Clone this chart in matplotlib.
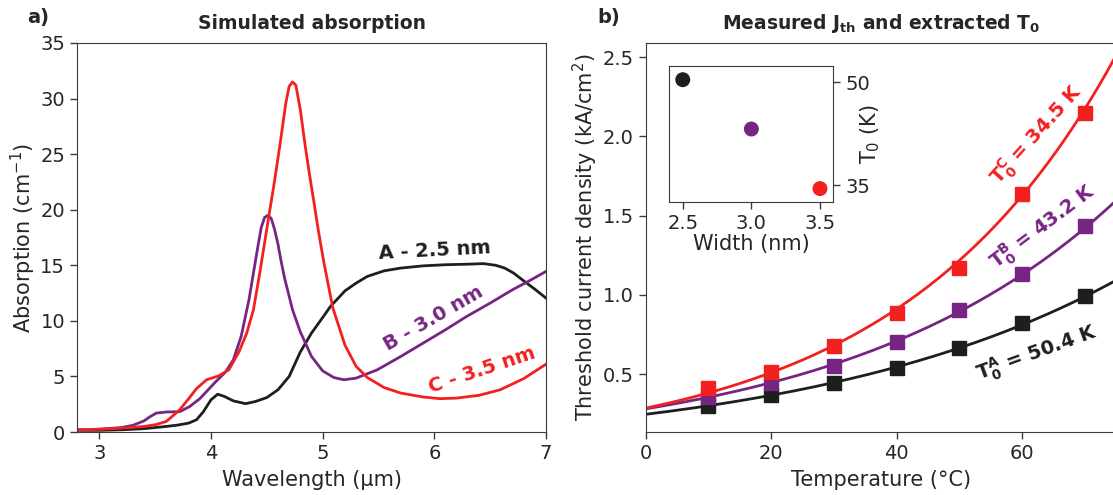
import matplotlib
matplotlib.use("Agg")
import matplotlib.pyplot as plt
import numpy as np

# panel a: simulated absorption spectra
wl_a = [2.8, 3.0, 3.2, 3.4, 3.5, 3.6, 3.7, 3.8, 3.87, 3.93, 4.0, 4.06, 4.12, 4.2, 4.31, 4.4,
        4.5, 4.6, 4.7, 4.8, 4.9, 5.0, 5.07, 5.2, 5.3, 5.4, 5.55, 5.7, 5.9, 6.1, 6.3, 6.44,
        6.55, 6.63, 6.71, 6.8, 6.9, 7.0]
abs_a = [0.15, 0.15, 0.2, 0.3, 0.4, 0.5, 0.62, 0.8, 1.1, 1.8, 2.9, 3.4, 3.2, 2.8, 2.55, 2.75,
         3.1, 3.8, 5.0, 7.2, 8.9, 10.3, 11.3, 12.7, 13.4, 14.0, 14.5, 14.75, 14.95, 15.05, 15.1, 15.15,
         15.0, 14.75, 14.3, 13.6, 12.85, 12.05]

wl_b = [2.8, 3.0, 3.2, 3.3, 3.4, 3.45, 3.51, 3.6, 3.72, 3.81, 3.9, 4.04, 4.13, 4.2, 4.27, 4.34,
        4.42, 4.45, 4.48, 4.51, 4.54, 4.57, 4.6, 4.625, 4.66, 4.73, 4.8, 4.9, 5.0, 5.1, 5.19, 5.3,
        5.49, 5.7, 5.9, 6.1, 6.29, 6.5, 6.7, 6.85, 7.0]
abs_b = [0.2, 0.25, 0.4, 0.6, 1.0, 1.35, 1.7, 1.8, 1.83, 2.3, 3.0, 4.5, 5.4, 6.5, 8.6, 11.9,
         16.7, 18.4, 19.3, 19.5, 19.2, 18.2, 16.9, 15.5, 13.8, 11.0, 9.0, 6.8, 5.5, 4.9, 4.7, 4.85,
         5.6, 6.8, 8.0, 9.2, 10.4, 11.6, 12.8, 13.6, 14.45]

wl_c = [2.8, 3.0, 3.2, 3.4, 3.5, 3.6, 3.72, 3.8, 3.87, 3.96, 4.07, 4.16, 4.25, 4.32, 4.38, 4.44,
        4.5, 4.56, 4.62, 4.67, 4.7, 4.73, 4.76, 4.8, 4.84, 4.88, 4.92, 4.96, 5.01, 5.09, 5.2, 5.3,
        5.4, 5.55, 5.7, 5.9, 6.05, 6.2, 6.4, 6.59, 6.8, 7.0]
abs_c = [0.2, 0.25, 0.35, 0.5, 0.65, 0.95, 2.0, 3.0, 3.9, 4.7, 5.05, 5.6, 7.2, 8.9, 11.0, 14.5,
         18.3, 22.0, 26.0, 29.6, 31.1, 31.5, 31.2, 29.0, 26.0, 23.3, 20.8, 18.2, 15.3, 11.2, 7.8, 5.9,
         4.9, 4.0, 3.5, 3.15, 3.0, 3.05, 3.3, 3.8, 4.8, 6.1]

# panel b: measured threshold current densities
temps = [10, 20, 30, 40, 50, 60, 70]
jth_a = [0.30, 0.37, 0.443, 0.538, 0.665, 0.823, 0.991]
jth_b = [0.355, 0.445, 0.55, 0.706, 0.907, 1.135, 1.434]
jth_c = [0.41, 0.515, 0.675, 0.886, 1.17, 1.635, 2.15]
t0_values = [50.4, 43.2, 34.5]
widths = [2.5, 3.0, 3.5]

BLACK = "#1e1e1e"
PURPLE = "#772583"
RED = "#f2201f"
TXT = "#262626"

plt.rcParams["font.family"] = "DejaVu Sans"
plt.rcParams["axes.edgecolor"] = "#3a3a3a"
plt.rcParams["text.color"] = TXT
plt.rcParams["axes.labelcolor"] = TXT
plt.rcParams["xtick.color"] = "#3a3a3a"
plt.rcParams["ytick.color"] = "#3a3a3a"
plt.rcParams["xtick.labelcolor"] = TXT
plt.rcParams["ytick.labelcolor"] = TXT
plt.rcParams["mathtext.fontset"] = "dejavusans"

W, H = 1113, 495
fig = plt.figure(figsize=(W / 100, H / 100), dpi=100)


def box(x0, y0, x1, y1):
    return [x0 / W, 1 - y1 / H, (x1 - x0) / W, (y1 - y0) / H]


# ---- panel a ----
ax1 = fig.add_axes(box(77, 43, 546, 432))
for x, y, c in [(wl_a, abs_a, BLACK), (wl_b, abs_b, PURPLE), (wl_c, abs_c, RED)]:
    ax1.plot(x, y, color=c, lw=2.0, solid_joinstyle="round")
ax1.set_xlim(2.8, 7)
ax1.set_ylim(0, 35)
ax1.set_xticks([3, 4, 5, 6, 7])
ax1.set_yticks(range(0, 36, 5))
ax1.tick_params(labelsize=14, length=5, width=1)
ax1.set_xlabel("Wavelength (µm)", fontsize=15, labelpad=5)
ax1.set_ylabel("Absorption (cm$^{-1}$)", fontsize=15, labelpad=2)
ax1.set_title("Simulated absorption", fontsize=13.5, fontweight="bold", pad=10)
ax1.text(6.0, 16.3, "A - 2.5 nm", color=BLACK, fontsize=14, fontweight="bold",
         rotation=3, ha="center", va="center")
ax1.text(5.99, 10.25, "B - 3.0 nm", color=PURPLE, fontsize=14, fontweight="bold",
         rotation=30, ha="center", va="center")
ax1.text(6.43, 5.6, "C - 3.5 nm", color=RED, fontsize=14, fontweight="bold",
         rotation=18.5, ha="center", va="center")
fig.text(27 / W, 1 - 17 / H, "a)", fontsize=14, fontweight="bold", va="center")

# ---- panel b ----
ax2 = fig.add_axes(box(645.7, 43, 1116, 432))
t_fit = np.linspace(0, 75, 200)
for jth, t0, c in [(jth_a, t0_values[0], BLACK), (jth_b, t0_values[1], PURPLE), (jth_c, t0_values[2], RED)]:
    t = np.array(temps, dtype=float)
    j0 = np.exp(np.mean(np.log(jth) - t / t0))
    ax2.plot(t_fit, j0 * np.exp(t_fit / t0), color=c, lw=2.0)
    ax2.plot(temps, jth, "s", color=c, ms=10, mec=c)
ax2.set_xlim(0, 75)
ax2.set_ylim(0.135, 2.59)
ax2.set_xticks([0, 20, 40, 60])
ax2.set_yticks([0.5, 1.0, 1.5, 2.0, 2.5])
ax2.tick_params(labelsize=14, length=5, width=1)
ax2.set_xlabel("Temperature (°C)", fontsize=15, labelpad=5)
ax2.set_ylabel("Threshold current density (kA/cm$^2$)", fontsize=15, labelpad=2)
ax2.set_title(r"Measured J$_\mathbf{th}$ and extracted T$_\mathbf{0}$", fontsize=13.5,
              fontweight="bold", pad=10)
ax2.text(62.4, 2.01, r"$\mathbf{T_0^C}$ = 34.5 K", color=RED, fontsize=14, fontweight="bold",
         rotation=48, ha="center", va="center")
ax2.text(63.4, 1.43, r"$\mathbf{T_0^B}$ = 43.2 K", color=PURPLE, fontsize=14, fontweight="bold",
         rotation=37, ha="center", va="center")
ax2.text(62.4, 0.633, r"$\mathbf{T_0^A}$ = 50.4 K", color=BLACK, fontsize=14, fontweight="bold",
         rotation=20, ha="center", va="center")
fig.text(597 / W, 1 - 17 / H, "b)", fontsize=14, fontweight="bold", va="center")

# ---- inset ----
ax3 = fig.add_axes(box(669.3, 66, 833.3, 202.3))
ax3.scatter(widths, t0_values, s=95, c=[BLACK, PURPLE, RED], zorder=3)
ax3.set_xlim(2.402, 3.597)
ax3.set_ylim(32.5, 52.4)
ax3.set_xticks([2.5, 3.0, 3.5])
ax3.set_yticks([35, 50])
ax3.yaxis.tick_right()
ax3.yaxis.set_label_position("right")
ax3.tick_params(labelsize=14, length=5, width=1)
ax3.set_xlabel("Width (nm)", fontsize=15, labelpad=1)
ax3.set_ylabel("T$_0$ (K)", fontsize=15, labelpad=-8)

fig.savefig("out.png", dpi=100)
